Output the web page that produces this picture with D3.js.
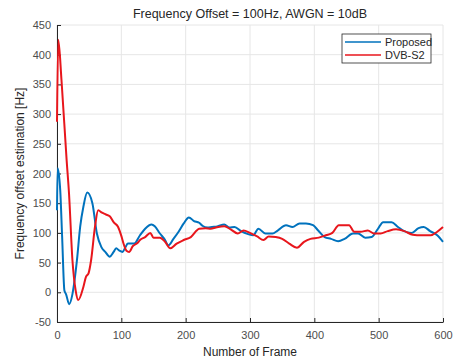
<!DOCTYPE html>
<html>
<head>
<meta charset="utf-8">
<script src="https://cdn.jsdelivr.net/npm/d3@7"></script>
<style>
  body { margin: 0; background: #fff; }
  text { font-family: "Liberation Sans", Arial, sans-serif; }
</style>
</head>
<body>
<div id="chart"></div>
<script>
// values
const proposedFrames = [0, 1, 5, 8, 11.5, 14, 19, 24, 31, 36, 41, 47, 55, 62, 69, 75, 82, 88, 92, 97, 102, 106, 110, 120, 129, 137, 147, 152, 160, 168, 173, 181, 189, 197, 205, 213, 221, 226, 234, 241, 249, 260, 268, 276, 286, 297, 305, 313, 324, 335, 343, 356, 366, 377, 387, 398, 406, 416, 426, 437, 447, 460, 468, 479, 489, 499, 507, 520, 530, 538, 551, 562, 570, 580, 591, 600];
const proposedValues = [138, 209, 172, 93, 3, -3, -20, -3, 54, 110, 144, 168, 150, 99, 76, 68, 60, 68, 74, 70, 68, 75, 82, 82, 96, 107, 114, 111, 99, 88, 79, 90, 102, 116, 126, 120, 117, 112, 109, 110, 111, 114, 109, 110, 103, 98, 96, 107, 99, 99, 104, 113, 110, 116, 116, 113, 104, 93, 90, 86, 90, 99, 99, 92, 93, 107, 118, 118, 110, 104, 100, 108, 110, 103, 96, 85];

const dvbFrames = [0, 2, 7, 15, 18.7, 24, 29, 33, 41, 45, 49, 53, 59, 64, 70, 76, 82, 88, 95, 100, 104, 108, 112, 118, 125, 129, 137, 145, 150, 160, 168, 176, 186, 197, 208, 221, 231, 239, 247, 260, 270, 281, 290, 300, 311, 321, 329, 340, 350, 361, 373, 384, 394, 407, 418, 428, 438, 454, 462, 472, 483, 493, 503, 514, 527, 540, 553, 566, 581, 591, 600];
const dvbValues = [287, 425, 357, 222, 166, 54, 3, -13, 9, 26, 32, 54, 110, 138, 134, 131, 128, 118, 110, 95, 80, 70, 68, 78, 83, 88, 93, 100, 92, 92, 85, 74, 82, 88, 93, 107, 108, 107, 109, 111, 106, 99, 104, 100, 94, 88, 94, 93, 90, 82, 75, 85, 90, 92, 96, 100, 113, 113, 102, 102, 104, 99, 99, 103, 106, 103, 97, 96, 96, 102, 110];

const xTicks = [0, 100, 200, 300, 400, 500, 600];
const yTicks = [-50, 0, 50, 100, 150, 200, 250, 300, 350, 400, 450];
const seriesNames = ["Proposed", "DVB-S2"];
const seriesColors = ["#0072BD", "#E8161C"];

const fullWidth = 453, fullHeight = 360;
const margin = { top: 25, right: 10, bottom: 38, left: 57 };
const width = 443 - margin.left;
const height = 322 - margin.top;

const svg = d3.select("#chart").append("svg")
  .attr("width", fullWidth)
  .attr("height", fullHeight);

const g = svg.append("g")
  .attr("transform", "translate(" + margin.left + "," + margin.top + ")");

const x = d3.scaleLinear().domain([0, 600]).range([0, width]);
const y = d3.scaleLinear().domain([-50, 450]).range([height, 0]);

// grid
g.append("g").selectAll("line").data(xTicks).enter().append("line")
  .attr("x1", d => x(d)).attr("x2", d => x(d))
  .attr("y1", 0).attr("y2", height)
  .attr("stroke", "#e6e6e6").attr("stroke-width", 1);
g.append("g").selectAll("line").data(yTicks).enter().append("line")
  .attr("x1", 0).attr("x2", width)
  .attr("y1", d => y(d)).attr("y2", d => y(d))
  .attr("stroke", "#e6e6e6").attr("stroke-width", 1);

// axes (ticks inward, matlab style), plain hyphen for negatives
const plain = d => String(d);
const xAxis = g.append("g")
  .attr("transform", "translate(0," + height + ")")
  .call(d3.axisBottom(x).tickValues(xTicks).tickFormat(plain).tickSizeInner(-4).tickSizeOuter(0).tickPadding(9));
const yAxis = g.append("g")
  .call(d3.axisLeft(y).tickValues(yTicks).tickFormat(plain).tickSizeInner(-4).tickSizeOuter(0).tickPadding(6));

[xAxis, yAxis].forEach(a => {
  a.select(".domain").attr("stroke", "#262626");
  a.selectAll(".tick line").attr("stroke", "#262626");
  a.selectAll("text").attr("fill", "#4d4d4d").style("font-size", "11px")
    .style("font-family", "'Liberation Sans', Arial, sans-serif");
});

// lines
const line = d3.line()
  .x(d => x(d[0]))
  .y(d => y(d[1]))
  .curve(d3.curveMonotoneX);

const series = [
  d3.zip(proposedFrames, proposedValues),
  d3.zip(dvbFrames, dvbValues)
];

series.forEach((s, i) => {
  g.append("path")
    .datum(s)
    .attr("fill", "none")
    .attr("stroke", seriesColors[i])
    .attr("stroke-width", 2)
    .attr("stroke-linejoin", "round")
    .attr("d", line);
});

// title and labels
svg.append("text")
  .attr("x", margin.left + width / 2).attr("y", 18)
  .attr("text-anchor", "middle")
  .attr("fill", "#262626")
  .style("font-size", "12.5px")
  .text("Frequency Offset = 100Hz, AWGN = 10dB");

svg.append("text")
  .attr("x", margin.left + width / 2).attr("y", 356)
  .attr("text-anchor", "middle")
  .attr("fill", "#262626")
  .style("font-size", "12px")
  .text("Number of Frame");

svg.append("text")
  .attr("transform", "translate(24," + (margin.top + height / 2) + ") rotate(-90)")
  .attr("text-anchor", "middle")
  .attr("fill", "#262626")
  .style("font-size", "12px")
  .text("Frequency offset estimation [Hz]");

// legend
const legend = svg.append("g").attr("transform", "translate(342,34)");
legend.append("rect")
  .attr("width", 89).attr("height", 29)
  .attr("fill", "#fff").attr("stroke", "#262626").attr("stroke-width", 0.8);
seriesNames.forEach((name, i) => {
  const ly = 8 + i * 13;
  legend.append("line")
    .attr("x1", 3).attr("x2", 39).attr("y1", ly).attr("y2", ly)
    .attr("stroke", seriesColors[i]).attr("stroke-width", 1.5);
  legend.append("text")
    .attr("x", 43).attr("y", ly + 4)
    .attr("fill", "#262626")
    .style("font-size", "11px")
    .text(name);
});
</script>
</body>
</html>
